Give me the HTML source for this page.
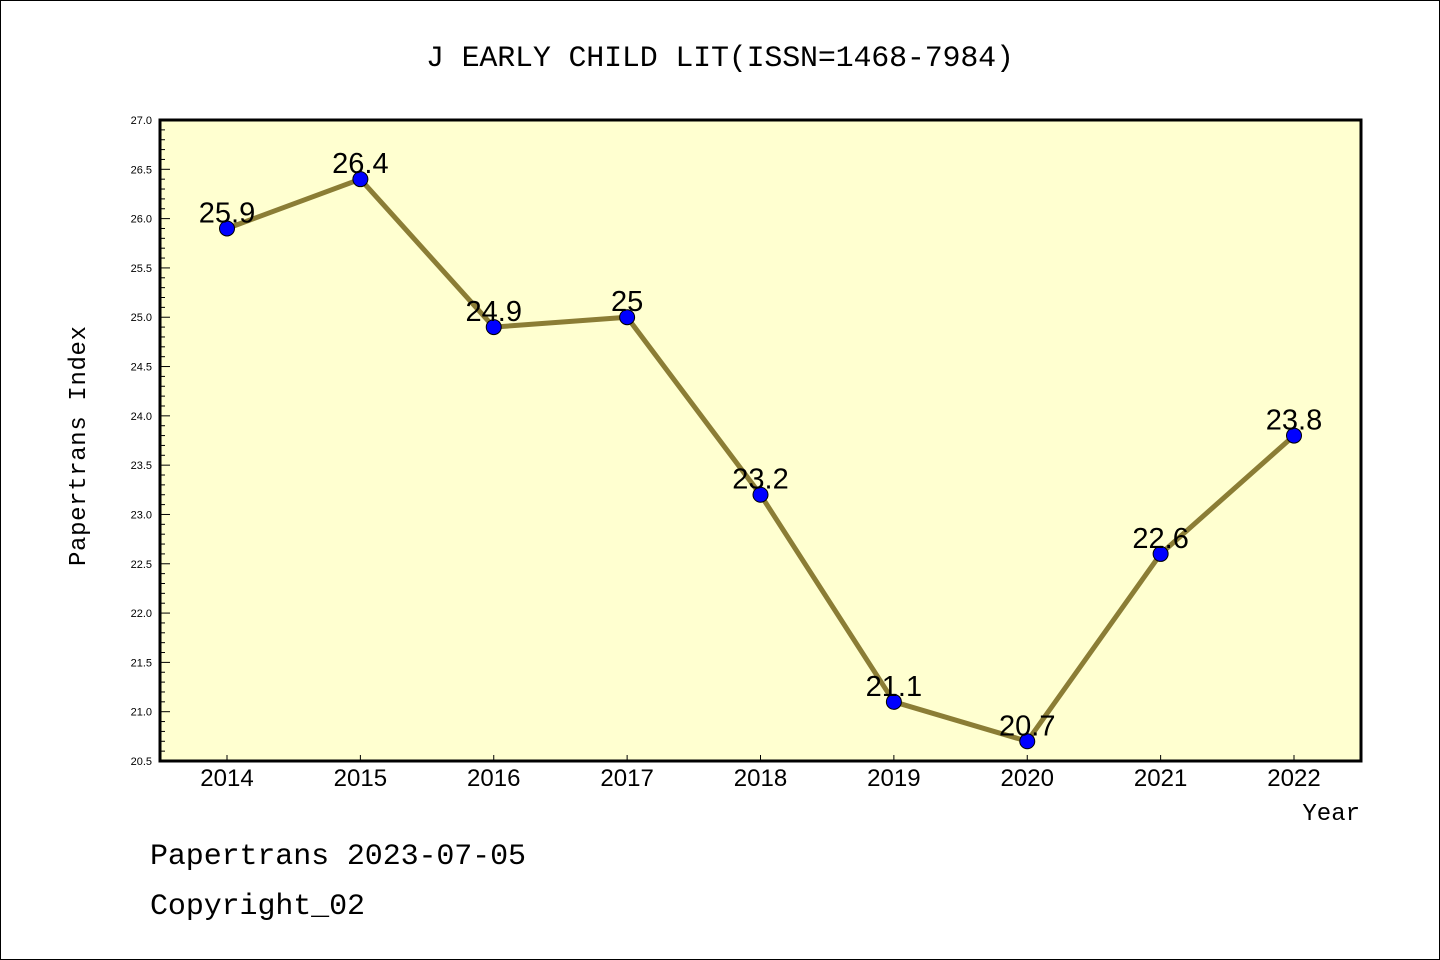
<!DOCTYPE html>
<html><head><meta charset="utf-8"><style>
body{margin:0;background:#fff;}
svg{display:block;font-family:"Liberation Mono","DejaVu Sans Mono",monospace;}
</style></head><body>
<svg id="c" width="1440" height="960">
<rect x="0.5" y="0.5" width="1439" height="959" fill="#fff" stroke="#000"/>
<text x="720" y="66" font-size="30" text-anchor="middle" textLength="588">J EARLY CHILD LIT(ISSN=1468-7984)</text>
<rect x="160" y="120" width="1201" height="641" fill="#ffffd0" stroke="#000" stroke-width="3"/>
<g id="yt"></g>
<g id="xt"></g>
<g id="marks"></g>
<text transform="translate(85,446) rotate(-90)" font-size="24" text-anchor="middle" textLength="240">Papertrans Index</text>
<text x="1360" y="820" font-size="24" text-anchor="end">Year</text>
<text x="150" y="864" font-size="30" textLength="376">Papertrans 2023-07-05</text>
<text x="150" y="914" font-size="30" textLength="215">Copyright_02</text>
</svg>
<script>
const years=[2014,2015,2016,2017,2018,2019,2020,2021,2022];
const values=[25.9,26.4,24.9,25,23.2,21.1,20.7,22.6,23.8];
const labels=["25.9","26.4","24.9","25","23.2","21.1","20.7","22.6","23.8"];
const yTicks=["20.5","21.0","21.5","22.0","22.5","23.0","23.5","24.0","24.5","25.0","25.5","26.0","26.5","27.0"];
const NS="http://www.w3.org/2000/svg";
const yMin=20.5,yMax=27.0,plotTop=120,plotBot=761,plotLeft=160;
const yS=v=>plotBot-(v-yMin)/(yMax-yMin)*(plotBot-plotTop);
const xS=yr=>227+(yr-2014)*(1294-227)/8;
function mk(t,a,p){const e=document.createElementNS(NS,t);for(const k in a)e.setAttribute(k,a[k]);p.appendChild(e);return e;}
const yt=document.getElementById('yt');
for(let i=0;i<=65;i++){const v=yMin+i*0.1;const major=i%5===0;
 const l=mk('line',{x1:plotLeft,x2:plotLeft+(major?10:5),y1:yS(v),y2:yS(v),stroke:'#000','stroke-width':1},yt);
 
 }
yTicks.forEach(s=>{const t=mk('text',{x:152,y:yS(parseFloat(s))+4,'font-size':11,'text-anchor':'end','font-family':'Liberation Sans, sans-serif'},yt);t.textContent=s;
 
 });
const xt=document.getElementById('xt');
years.forEach(yr=>{const l=mk('line',{x1:xS(yr),x2:xS(yr),y1:plotBot,y2:plotBot-6,stroke:'#000'},xt);
 
 
 const t=mk('text',{x:xS(yr),y:786,'font-size':24,'text-anchor':'middle','font-family':'Liberation Sans, sans-serif'},xt);t.textContent=yr;
 
 });
const g=document.getElementById('marks');
const pl=mk('polyline',{points:years.map((yr,i)=>xS(yr)+','+yS(values[i])).join(' '),fill:'none',stroke:'#8b7d35','stroke-width':5},g);


years.forEach((yr,i)=>{const c=mk('circle',{cx:xS(yr),cy:yS(values[i]),r:7.5,fill:'#0000ff',stroke:'#000','stroke-width':1},g);
 
 
 const t=mk('text',{x:xS(yr),y:yS(values[i])-6,'font-size':29,'text-anchor':'middle','font-family':'Liberation Sans, sans-serif'},g);t.textContent=labels[i];
 
 });
</script>
</body></html>
